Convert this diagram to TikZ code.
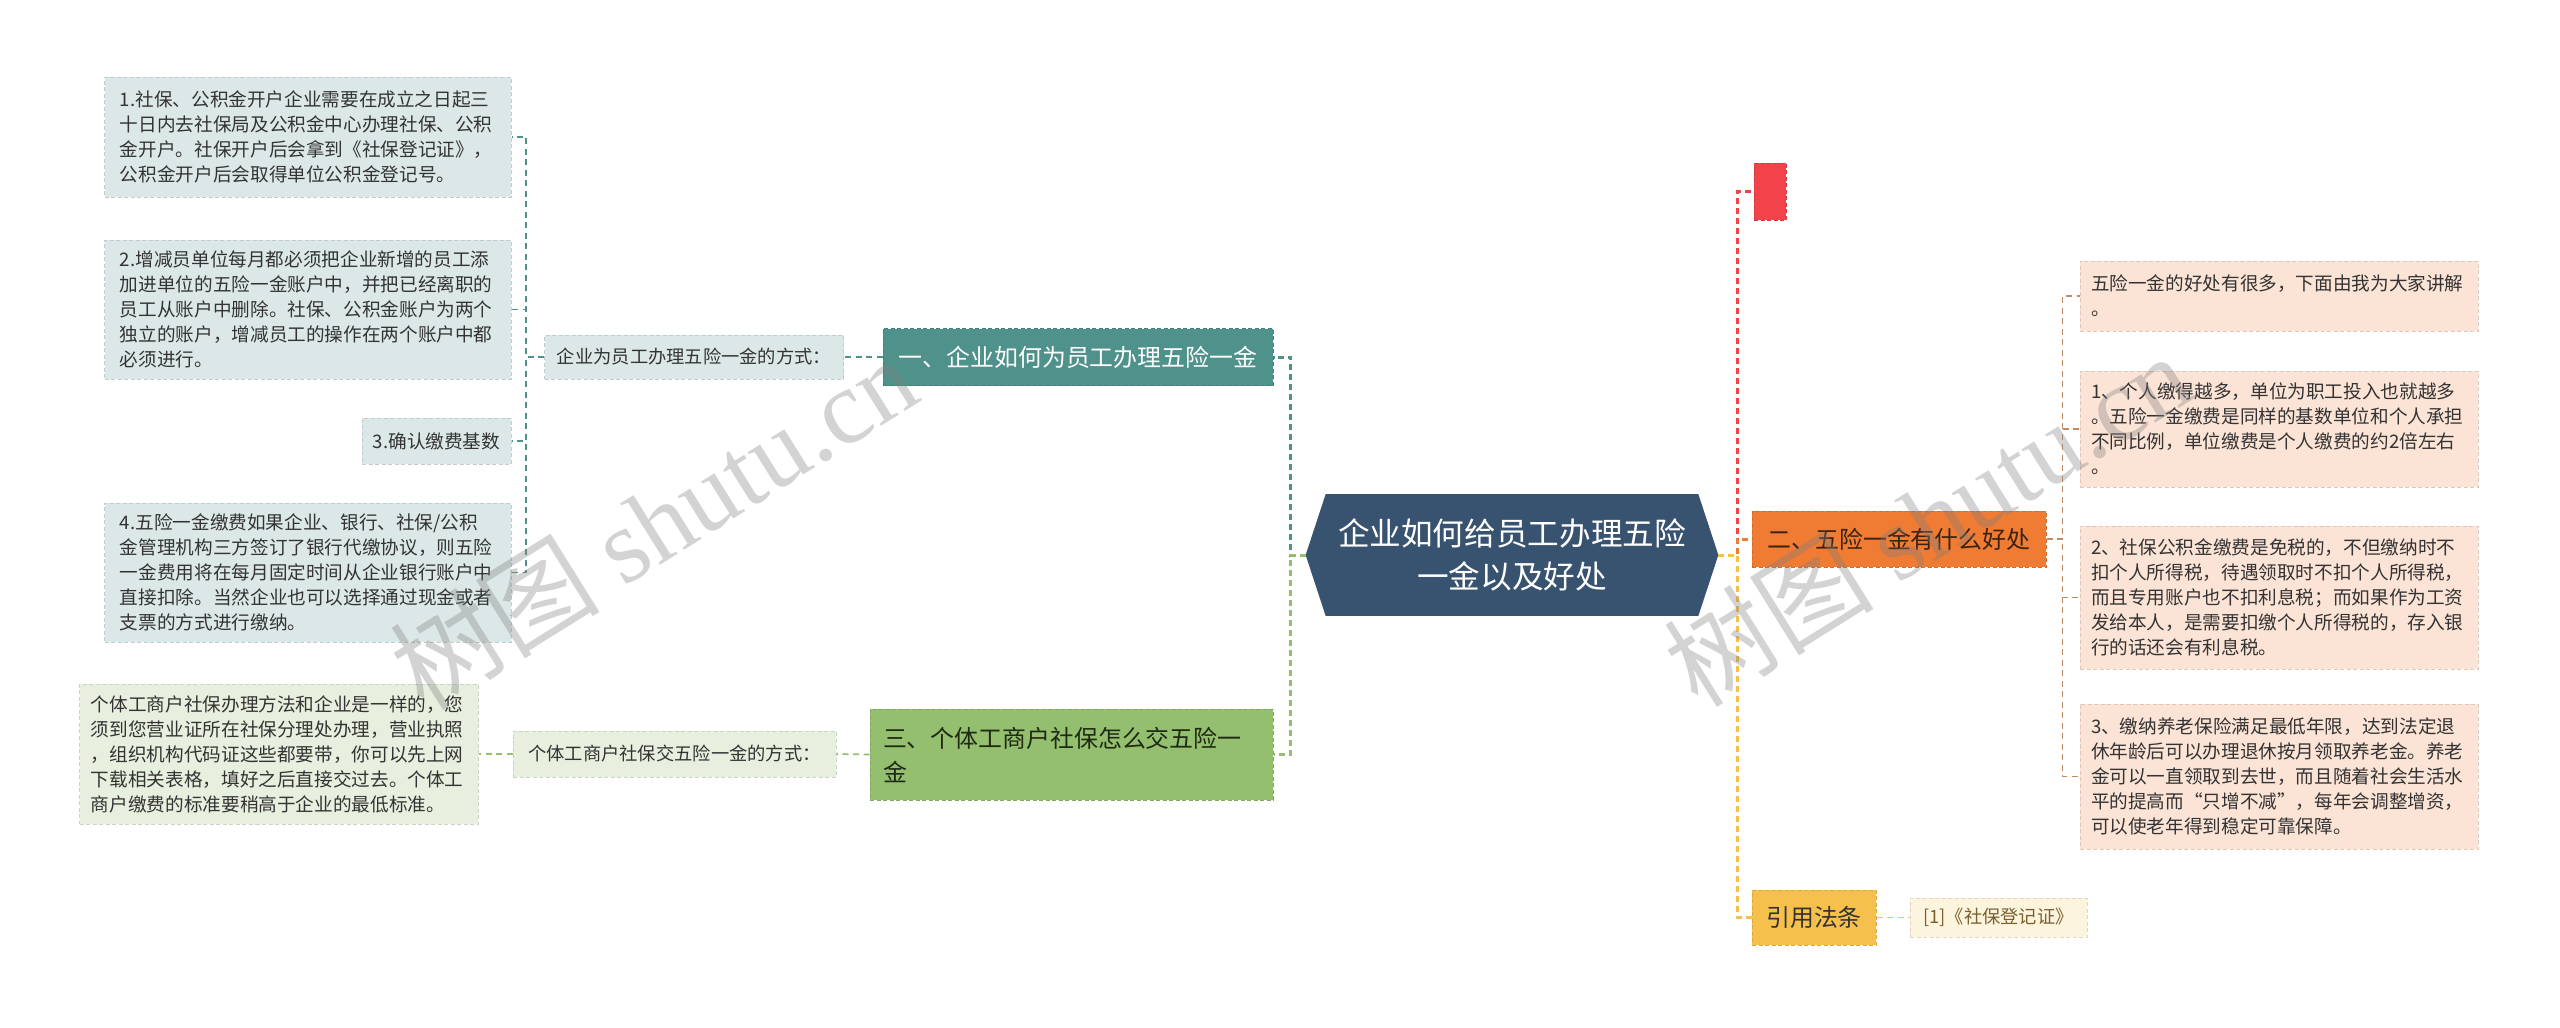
\documentclass[tikz,border=0pt]{standalone}
\usepackage{fontspec}
\setmainfont{Noto Sans CJK SC}
\newfontfamily\wmfont{Liberation Serif}
\usepackage{tikz}
\usetikzlibrary{calc,backgrounds}
\definecolor{rootblue}{HTML}{38536F}
\definecolor{tealmain}{HTML}{4F918B}
\definecolor{tealfill}{HTML}{DCE8E8}
\definecolor{greenmain}{HTML}{93BF6F}
\definecolor{greenfill}{HTML}{E7F0DE}
\definecolor{greentext}{HTML}{1F2A14}
\definecolor{redmark}{HTML}{F2424A}
\definecolor{orangemain}{HTML}{F07B32}
\definecolor{orangetext}{HTML}{3B2314}
\definecolor{peach}{HTML}{FBE3D5}
\definecolor{peachline}{HTML}{C08A62}
\definecolor{goldmain}{HTML}{F6C04C}
\definecolor{cream}{HTML}{FDF4DE}
\definecolor{refbrown}{HTML}{7A6030}
\definecolor{textdark}{HTML}{333333}
\newcommand{\leaffont}{\fontsize{10.6}{14.2}\selectfont}
\newcommand{\tagfont}{\fontsize{10.4}{13}\selectfont}
\newcommand{\branchfont}{\fontsize{13.6}{19.3}\selectfont}
\newcommand{\rootfont}{\fontsize{18}{24}\selectfont}
\tikzset{
  every node/.style={font=\leaffont,inner sep=0pt},
  box/.style={draw=#1!88!black,fill=#1,line width=0.2mm,dash pattern=on 0.8mm off 0.5mm},
  rootbox/.style={minimum width=74.4mm,minimum height=24.2mm,text=white,font=\rootfont,align=center},
  branch/.style={box=#1,font=\branchfont,minimum width=78mm,minimum height=11.4mm,align=center},
  tag/.style={box=#1,font=\tagfont,text=textdark,minimum height=8.8mm},
  leaf/.style={box=#1,text width=75.2mm,align=left,inner xsep=2.2mm,text=textdark},
  link/.style={draw=#1,line width=0.6mm,dash pattern=on 1.2mm off 0.8mm},
  twig/.style={draw=#1,line width=0.35mm,dash pattern=on 1.2mm off 0.9mm},
  wmark/.style={text=gray,opacity=0.35,font=\fontsize{60}{64}\selectfont},
}
\begin{document}
\begin{tikzpicture}[x=0.2mm,y=-0.2mm]
  \useasboundingbox (0,0) rectangle (2560,1027);
  % ---------- centre ----------
  \node[rootbox] (root) at (1512,555) {企业如何给员工办理五险\\一金以及好处};
  \coordinate (rootW) at ($(root.west)+(-20,0)$);
  \coordinate (rootE) at ($(root.east)+(20,0)$);
  \begin{scope}[on background layer]
    \fill[rootblue] (root.north west) -- (root.north east) -- (rootE)
      -- (root.south east) -- (root.south west) -- (rootW) -- cycle;
  \end{scope}

  % ---------- left: 企业 ----------
  \node[branch=tealmain,text=white,minimum width=78mm] (b1) at (1078,357) {一、企业如何为员工办理五险一金};
  \node[tag=tealfill,minimum width=59.8mm] (way1) at (694,357) {企业为员工办理五险一金的方式：};
  \node[leaf=tealfill,inner xsep=3mm,minimum height=24mm] (l1) at (308,137)
       {1.社保、公积金开户企业需要在成立之日起三\\十日内去社保局及公积金中心办理社保、公积\\金开户。社保开户后会拿到《社保登记证》，\\公积金开户后会取得单位公积金登记号。};
  \node[leaf=tealfill,inner xsep=3mm,minimum height=27.8mm] (l2) at (308,309.5)
       {2.增减员单位每月都必须把企业新增的员工添\\加进单位的五险一金账户中，并把已经离职的\\员工从账户中删除。社保、公积金账户为两个\\独立的账户，增减员工的操作在两个账户中都\\必须进行。};
  \node[box=tealfill,text=textdark,minimum width=29.8mm,minimum height=9.2mm] (l3) at (436.5,441) {3.确认缴费基数};
  \node[leaf=tealfill,inner xsep=3mm,minimum height=27.8mm] (l4) at (308,572.5)
       {4.五险一金缴费如果企业、银行、社保/公积\\金管理机构三方签订了银行代缴协议，则五险\\一金费用将在每月固定时间从企业银行账户中\\直接扣除。当然企业也可以选择通过现金或者\\支票的方式进行缴纳。};

  % ---------- left: 个体工商户 ----------
  \node[branch=greenmain,text=greentext,text width=75.4mm,align=left,inner xsep=2.6mm,
        minimum height=18.2mm] (b3) at (1071.5,754.5) {三、个体工商户社保怎么交五险一\\金};
  \node[tag=greenfill,minimum width=64.6mm,minimum height=9.2mm] (way3) at (674.5,754) {个体工商户社保交五险一金的方式：};
  \node[leaf=greenfill,minimum height=28mm] (g1) at (279,754)
       {个体工商户社保办理方法和企业是一样的，您\\须到您营业证所在社保分理处办理，营业执照\\，组织机构代码证这些都要带，你可以先上网\\下载相关表格，填好之后直接交过去。个体工\\商户缴费的标准要稍高于企业的最低标准。};

  % ---------- right ----------
  \node[box=redmark,minimum width=6.4mm,minimum height=11.4mm] (mark) at (1770,191.5) {};
  \node[branch=orangemain,text=orangetext,minimum width=58.8mm,minimum height=11.2mm] (b2) at (1899,539) {二、五险一金有什么好处};
  \node[leaf=peach,minimum height=14mm] (r1) at (2279,296)
       {五险一金的好处有很多，下面由我为大家讲解\\。};
  \node[leaf=peach,minimum height=23.2mm] (r2) at (2279,429)
       {1、个人缴得越多，单位为职工投入也就越多\\。五险一金缴费是同样的基数单位和个人承担\\不同比例，单位缴费是个人缴费的约2倍左右\\。};
  \node[leaf=peach,minimum height=28.6mm] (r3) at (2279,597.5)
       {2、社保公积金缴费是免税的，不但缴纳时不\\扣个人所得税，待遇领取时不扣个人所得税，\\而且专用账户也不扣利息税；而如果作为工资\\发给本人，是需要扣缴个人所得税的，存入银\\行的话还会有利息税。};
  \node[leaf=peach,minimum height=29mm] (r4) at (2279,776.5)
       {3、缴纳养老保险满足最低年限，达到法定退\\休年龄后可以办理退休按月领取养老金。养老\\金可以一直领取到去世，而且随着社会生活水\\平的提高而“只增不减”，每年会调整增资，\\可以使老年得到稳定可靠保障。};
  \node[branch=goldmain,text=textdark,minimum width=24.8mm,minimum height=11mm] (cite) at (1814,917.5) {引用法条};
  \node[tag=cream,text=refbrown,minimum width=35.4mm,minimum height=7.8mm] (ref) at (1998.5,917.5) {[1]《社保登记证》};

  % ---------- connectors ----------
  \draw[link=tealmain] (rootW) -- ++(-15,0) |- (b1.east);
  \draw[link=greenmain] (rootW) -- ++(-15,0) |- (b3.east);
  \draw[twig=tealmain] (b1.west) -- (way1.east);
  \foreach \n in {l1,l2,l3,l4}
    \draw[twig=tealmain] (way1.west) -- ++(-18,0) |- (\n.east);
  \draw[twig=greenmain] (b3.west) -- (way3.east);
  \draw[twig=greenmain] (way3.west) -- (g1.east);
  \draw[link=redmark] (rootE) -- ++(19,0) |- (mark.west);
  \draw[link=orangemain] (rootE) -- ++(19,0) |- (b2.west);
  \draw[link=goldmain] (rootE) -- ++(19,0) |- (cite.west);
  \foreach \n in {r1,r2,r3,r4}
    \draw[twig=peachline] (b2.east) -- ++(16,0) |- (\n.west);
  \draw[twig=goldmain] (cite.east) -- (ref.west);

  % watermarks
  \node[wmark,rotate=32] (wm1) at (653,522) {树图 {\wmfont shutu.cn}};
  \node[wmark,rotate=32] (wm2) at (1927,519) {树图 {\wmfont shutu.cn}};
\end{tikzpicture}
\end{document}
